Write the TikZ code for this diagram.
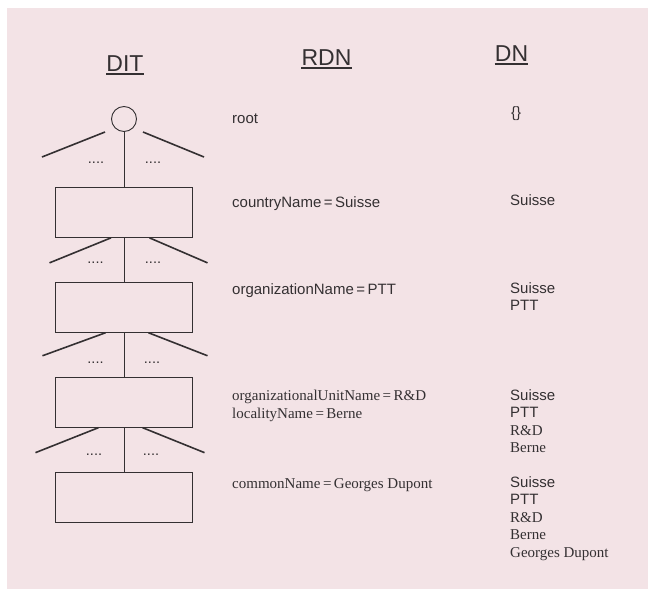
\documentclass[tikz,border=0pt]{standalone}
\usepackage{fontspec}
\setmainfont{Liberation Serif}
\setsansfont{Liberation Sans}
\definecolor{ditpink}{RGB}{243,227,230}
\definecolor{ditink}{RGB}{52,48,50}
\usetikzlibrary{positioning}

\begin{document}
\begin{tikzpicture}[x=1pt, y=-1pt,
    node distance=44pt,
    heading/.style={font=\sffamily\fontsize{23}{27}\selectfont, text=ditink, inner sep=0pt, anchor=base},
    entrybox/.style={rectangle, draw=ditink, line width=0.9pt, minimum width=137pt,
                     minimum height=50pt, inner sep=0pt},
    rootcirc/.style={circle, draw=ditink, line width=0.9pt, minimum size=25pt, inner sep=0pt},
    branch/.style={ditink, line width=1.6pt},
    stem/.style={ditink, line width=1pt},
    sanstxt/.style={font=\sffamily\fontsize{15}{17.5}\selectfont, text=ditink,
                    inner sep=0pt, anchor=base west, align=left},
    seriftxt/.style={font=\rmfamily\fontsize{15}{17.5}\selectfont, text=ditink,
                     inner sep=0pt, anchor=base west, align=left},
    elided/.style={font=\sffamily\fontsize{14.5}{17.5}\selectfont, text=ditink,
                   inner sep=0pt, anchor=base},
]
\useasboundingbox (0,0) rectangle (648,589);
\fill[ditpink] (7,8) rectangle (648,589);

% column headings
\node[heading] (hdit) at (125,71) {DIT};
\node[heading] (hrdn) at (326.5,65) {RDN};
\node[heading] (hdn)  at (511.5,61) {DN};
\foreach \h in {hdit,hrdn,hdn}
  \draw[ditink, line width=1.4pt] ([yshift=-3pt]\h.base west) -- ([yshift=-3pt]\h.base east);

% the tree
\node[rootcirc] (rt) at (124,119) {};
\node[entrybox, below=55pt of rt] (c) {};
\node[entrybox, below=of c] (o) {};
\node[entrybox, below=of o] (ou) {};
\node[entrybox, below=of ou] (cn) {};

\draw[stem] (rt) -- (c);
\draw[stem] (c) -- (o);
\draw[stem] (o) -- (ou);
\draw[stem] (ou) -- (cn);

% side branches with elided siblings
\draw[branch] ([xshift=-19pt,yshift=-13pt]rt.center) -- ++(-63,25);
\draw[branch] ([xshift=19pt,yshift=-13pt]rt.center) -- ++(61,25);
\draw[branch] ([xshift=-13pt]c.south) -- ++(-61.5,25);
\draw[branch] ([xshift=25.5pt]c.south) -- ++(58,25);
\draw[branch] ([xshift=-18.5pt]o.south) -- ++(-63,23);
\draw[branch] ([xshift=24.5pt]o.south) -- ++(59,23);
\draw[branch] ([xshift=-25.5pt]ou.south) -- ++(-63,25);
\draw[branch] ([xshift=18.5pt]ou.south) -- ++(62,25);

\node[elided] (d0l) at (96,163) {....};
\node[elided] (d0r) at (153,163) {....};
\node[elided] (d1l) at (95.5,263) {....};
\node[elided] (d1r) at (153,263) {....};
\node[elided] (d2l) at (95.5,363) {....};
\node[elided] (d2r) at (152,363) {....};
\node[elided] (d3l) at (94,455) {....};
\node[elided] (d3r) at (151,455) {....};

% relative distinguished names (base = last line)
\node[sanstxt]  (rrt) at (232,123) {root};
\node[sanstxt]  (rc)  at (232,207) {countryName\,=\,Suisse};
\node[sanstxt]  (ro)  at (232,294) {organizationName\,=\,PTT};
\node[seriftxt] (rou) at (232,418) {organizationalUnitName\,=\,R\&D\\localityName\,=\,Berne};
\node[seriftxt] (rcn) at (232,488) {commonName\,=\,Georges Dupont};

% distinguished names
\node[sanstxt] (nrt) at (511,117) {\{\}};
\node[sanstxt] (nc)  at (510,205) {Suisse};
\node[sanstxt] (no)  at (510,310.5) {Suisse\\PTT};
\node[sanstxt] (nou) at (510,452.5) {Suisse\\PTT\\\rmfamily R\&D\\\rmfamily Berne};
\node[sanstxt] (ncn) at (510,557) {Suisse\\PTT\\\rmfamily R\&D\\\rmfamily Berne\\\rmfamily Georges Dupont};

\end{tikzpicture}
\end{document}
